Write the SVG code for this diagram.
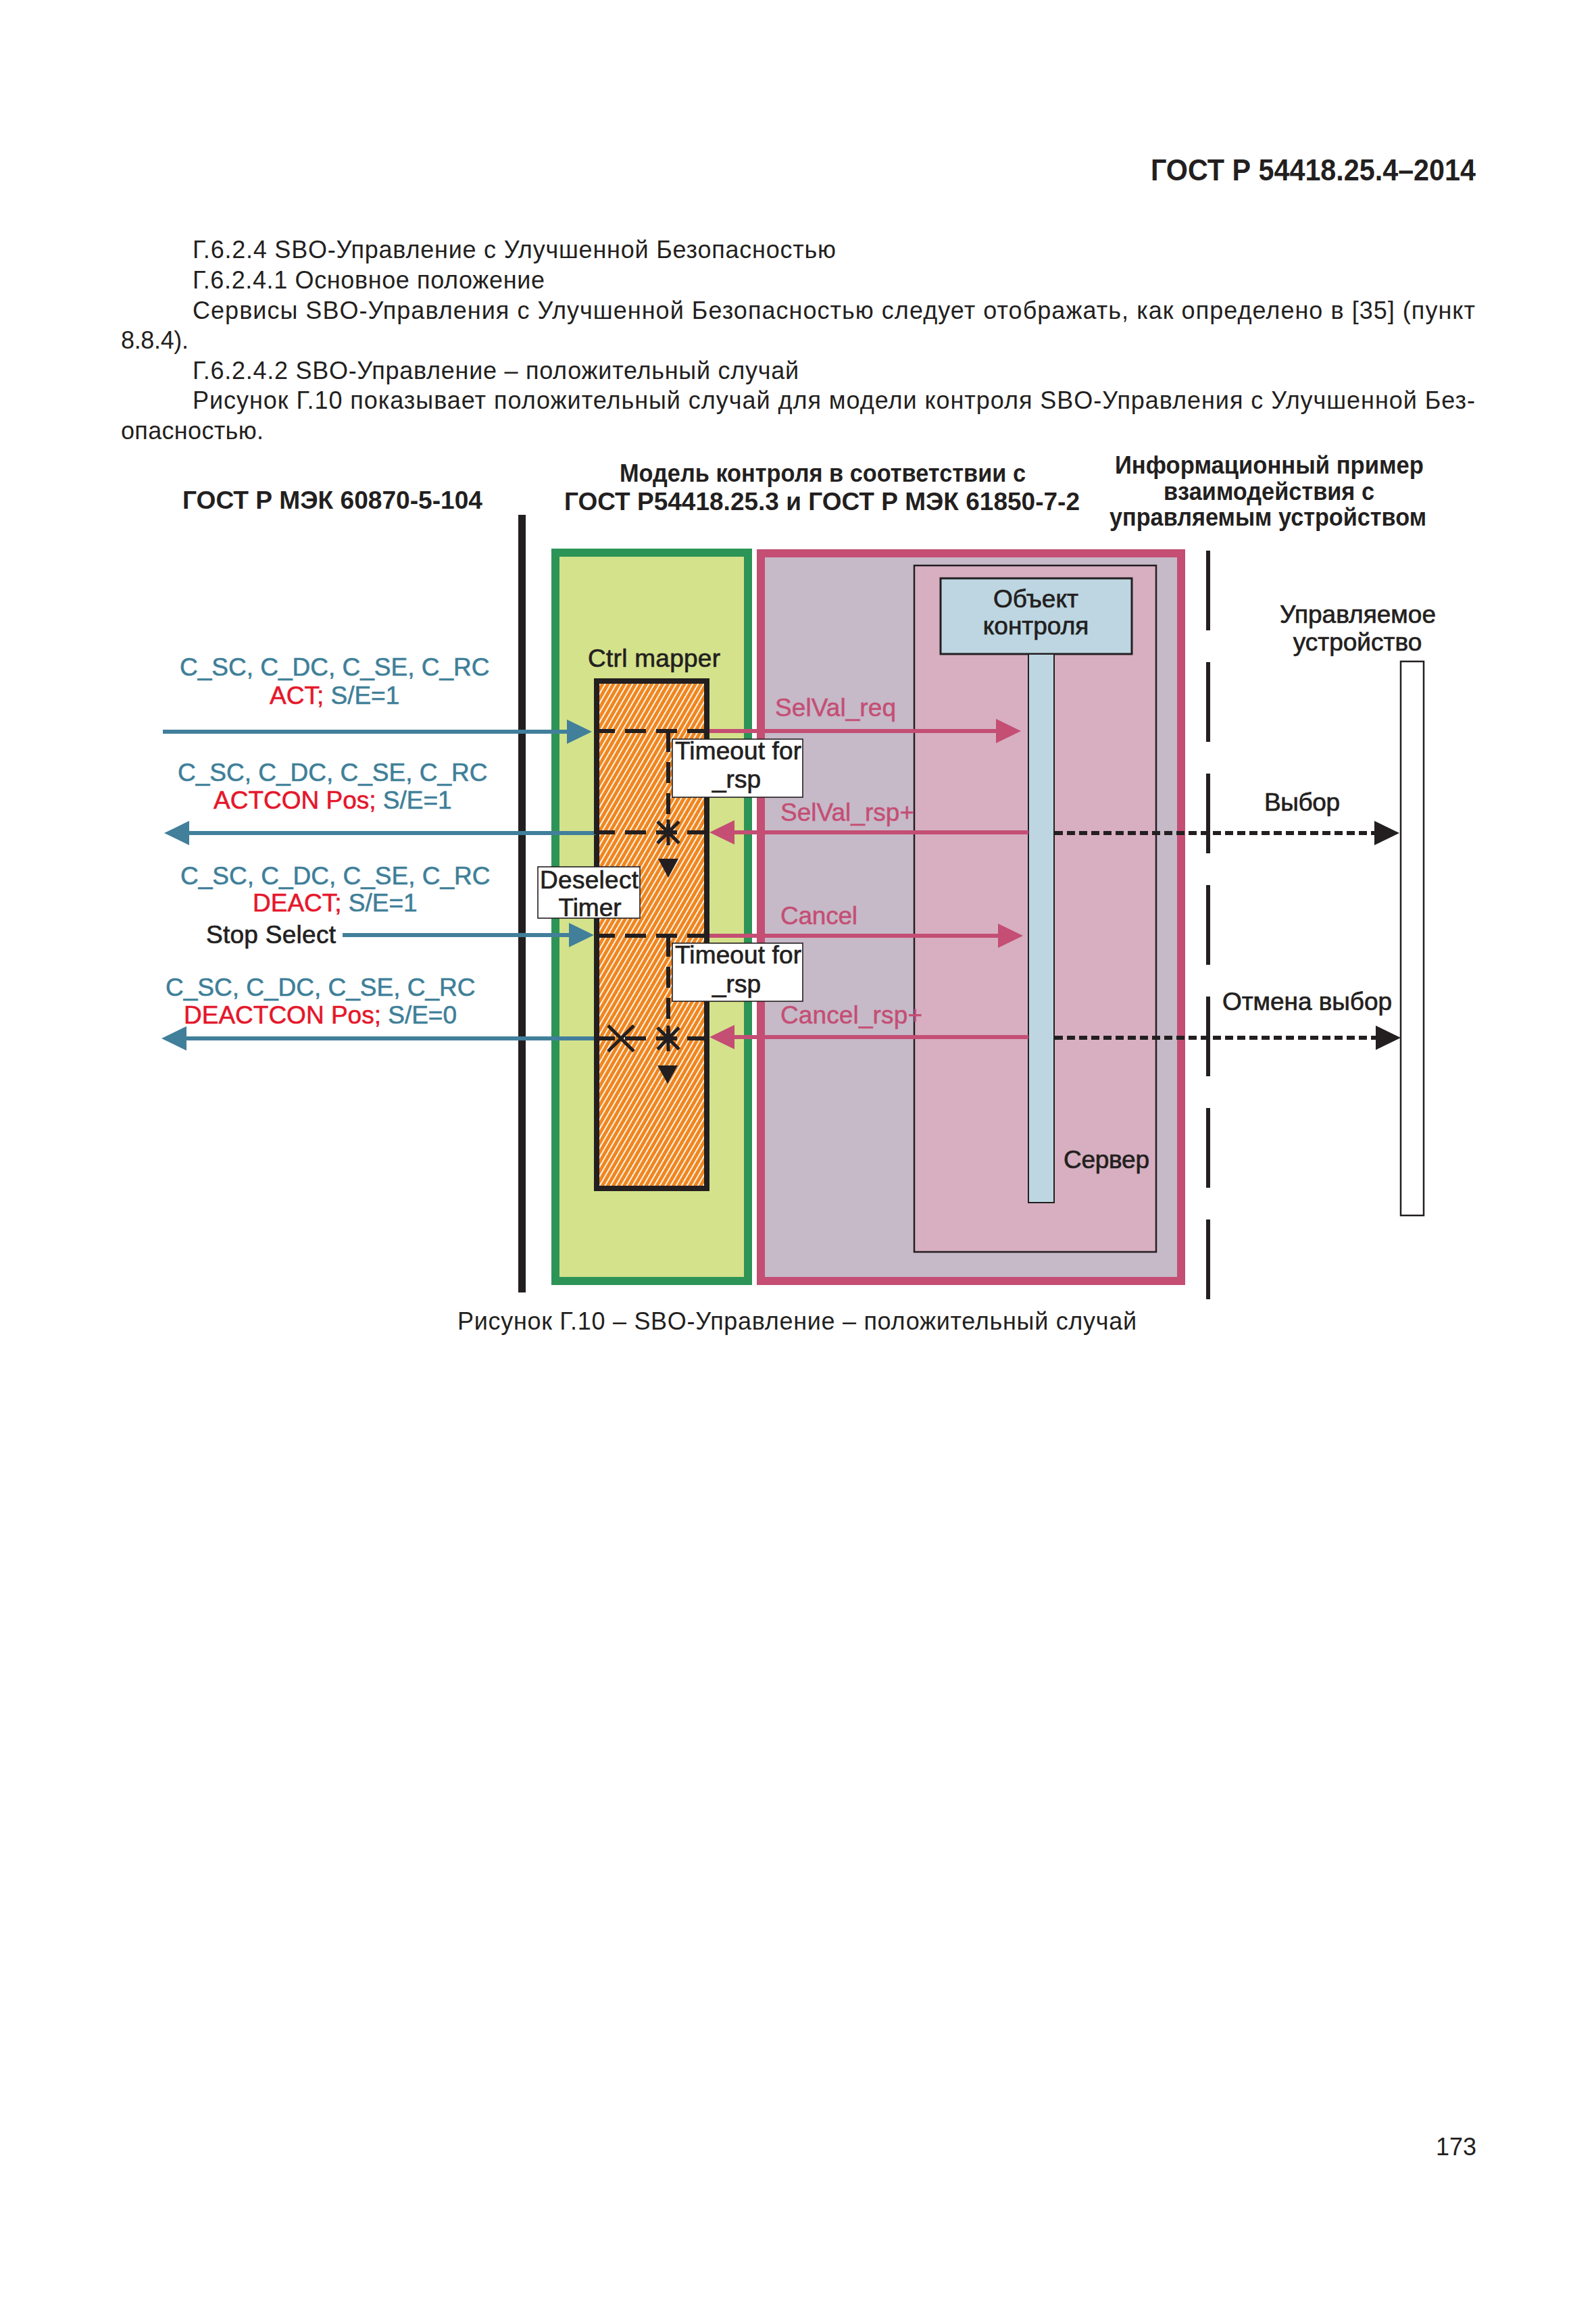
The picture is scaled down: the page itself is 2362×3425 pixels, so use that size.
<svg xmlns="http://www.w3.org/2000/svg" width="2362" height="3425" viewBox="0 0 2362 3425">
<style>
text{font-family:"Liberation Sans",Arial,sans-serif;}
.body{font-size:36px;fill:#231f20;}
.hb{font-size:37px;font-weight:bold;fill:#231f20;}
.lbl{font-size:37px;fill:#231f20;stroke:#231f20;stroke-width:0.7;}
.blu{font-size:37px;fill:#3f7f99;stroke:#3f7f99;stroke-width:0.6;}
.red{fill:#e5172b;stroke:#e5172b;}
.pk{font-size:37px;fill:#c44e74;stroke:#c44e74;stroke-width:0.5;}
.bline{stroke:#417f9b;stroke-width:6;fill:none;}
.pline{stroke:#c44e74;stroke-width:6;fill:none;}
.kdash{stroke:#231f20;stroke-width:6;stroke-dasharray:12 6;fill:none;}
.tdash{stroke:#231f20;stroke-width:6;stroke-dasharray:31 15;fill:none;}
.mark{stroke:#231f20;stroke-width:5;fill:none;}
.tbox{fill:#ffffff;stroke:#231f20;stroke-width:1.6;}
</style>
<defs>
<pattern id="hatch" patternUnits="userSpaceOnUse" width="7" height="7" patternTransform="rotate(30)">
<rect width="7" height="7" fill="#f0861f"/>
<rect x="0" y="0" width="1.8" height="7" fill="#ffffff"/>
</pattern>
<marker id="ab" markerUnits="userSpaceOnUse" markerWidth="40" markerHeight="40" viewBox="0 0 40 40" refX="2" refY="20" orient="auto"><path d="M0,2 L37,20 L0,38Z" fill="#417f9b"/></marker>
<marker id="ap" markerUnits="userSpaceOnUse" markerWidth="40" markerHeight="40" viewBox="0 0 40 40" refX="2" refY="20" orient="auto"><path d="M0,2 L37,20 L0,38Z" fill="#c44e74"/></marker>
<marker id="ak" markerUnits="userSpaceOnUse" markerWidth="40" markerHeight="40" viewBox="0 0 40 40" refX="2" refY="20" orient="auto"><path d="M0,2 L37,20 L0,38Z" fill="#231f20"/></marker>
</defs>
<rect width="2362" height="3425" fill="#ffffff"/>

<g id="page-text">
<text class="hb" x="1703" y="267" textLength="481" lengthAdjust="spacingAndGlyphs" style="font-size:45px">ГОСТ Р 54418.25.4–2014</text>
<text class="body" x="285" y="382" textLength="952" lengthAdjust="spacing">Г.6.2.4 SBO-Управление с Улучшенной Безопасностью</text>
<text class="body" x="285" y="427" textLength="521" lengthAdjust="spacing">Г.6.2.4.1 Основное положение</text>
<text class="body" x="285" y="472" textLength="1898" lengthAdjust="spacing">Сервисы SBO-Управления с Улучшенной Безопасностью следует отображать, как определено в [35] (пункт</text>
<text class="body" x="179" y="516" textLength="100" lengthAdjust="spacing">8.8.4).</text>
<text class="body" x="285" y="561" textLength="897" lengthAdjust="spacing">Г.6.2.4.2 SBO-Управление – положительный случай</text>
<text class="body" x="285" y="605" textLength="1898" lengthAdjust="spacing">Рисунок Г.10 показывает положительный случай для модели контроля SBO-Управления с Улучшенной Без-</text>
<text class="body" x="179" y="650" textLength="211" lengthAdjust="spacing">опасностью.</text>
<text class="body" x="677" y="1968" textLength="1005" lengthAdjust="spacing">Рисунок Г.10 – SBO-Управление – положительный случай</text>
<text class="body" x="2185" y="3190" text-anchor="end">173</text>
</g>

<g id="headings">
<text class="hb" x="270" y="753" textLength="444" lengthAdjust="spacingAndGlyphs">ГОСТ Р МЭК 60870-5-104</text>
<text class="hb" x="917" y="713" textLength="601" lengthAdjust="spacingAndGlyphs">Модель контроля в соответствии с</text>
<text class="hb" x="835" y="755" textLength="763" lengthAdjust="spacingAndGlyphs">ГОСТ Р54418.25.3 и ГОСТ Р МЭК 61850-7-2</text>
<text class="hb" x="1650" y="701" textLength="457" lengthAdjust="spacingAndGlyphs">Информационный пример</text>
<text class="hb" x="1722" y="740" textLength="312" lengthAdjust="spacingAndGlyphs">взаимодействия с</text>
<text class="hb" x="1642" y="778" textLength="469" lengthAdjust="spacingAndGlyphs">управляемым устройством</text>
</g>

<g id="boundary-left">
<rect x="767" y="762" width="11" height="1151" fill="#231f20"/>
</g>

<g id="boundary-right">
<line x1="1788" y1="815" x2="1788" y2="1923" stroke="#231f20" stroke-width="6" stroke-dasharray="118 47"/>
</g>

<g id="ctrl-mapper-area">
<rect x="822" y="818" width="285" height="1078" fill="#d4e28b" stroke="#2d9457" stroke-width="12"/>
<text class="lbl" x="870" y="987" textLength="196" lengthAdjust="spacing">Ctrl mapper</text>
</g>

<g id="server-area">
<rect x="1126" y="819" width="622" height="1077" fill="#c6b9c8" stroke="#c44e74" stroke-width="12"/>
</g>

<g id="server">
<rect x="1353" y="837" width="358" height="1016" fill="#d7afc1" stroke="#231f20" stroke-width="2.5"/>
<text class="lbl" x="1574" y="1729" textLength="127" lengthAdjust="spacing">Сервер</text>
</g>

<g id="control-object">
<rect x="1392" y="856" width="283" height="112" fill="#bdd6e2" stroke="#231f20" stroke-width="3"/>
<text class="lbl" x="1533" y="899" text-anchor="middle">Объект</text>
<text class="lbl" x="1533" y="939" text-anchor="middle">контроля</text>
<rect x="1522" y="968" width="38" height="812" fill="#bdd6e2" stroke="#231f20" stroke-width="2"/>
</g>

<g id="controlled-device">
<text class="lbl" x="1894" y="922" textLength="231" lengthAdjust="spacing">Управляемое</text>
<text class="lbl" x="2009" y="963" text-anchor="middle">устройство</text>
<rect x="2073" y="979" width="34" height="820" fill="#ffffff" stroke="#231f20" stroke-width="2.5"/>
</g>

<g id="ctrl-mapper">
<rect x="883" y="1008" width="163" height="751" fill="url(#hatch)" stroke="#231f20" stroke-width="8"/>
</g>

<g id="labels-left">
<text class="blu" x="266" y="1000">C_SC, C_DC, C_SE, C_RC</text>
<text class="blu" x="399" y="1042"><tspan class="red">ACT;</tspan> S/E=1</text>
<text class="blu" x="263" y="1156">C_SC, C_DC, C_SE, C_RC</text>
<text class="blu" x="316" y="1197"><tspan class="red">ACTCON Pos;</tspan> S/E=1</text>
<text class="blu" x="267" y="1309">C_SC, C_DC, C_SE, C_RC</text>
<text class="blu" x="374" y="1349"><tspan class="red">DEACT;</tspan> S/E=1</text>
<text class="lbl" x="305" y="1396" textLength="192" lengthAdjust="spacing">Stop Select</text>
<text class="blu" x="245" y="1474">C_SC, C_DC, C_SE, C_RC</text>
<text class="blu" x="272" y="1515"><tspan class="red">DEACTCON Pos;</tspan> S/E=0</text>
</g>

<g id="connectors">
<line class="bline" x1="241" y1="1083" x2="841" y2="1083" marker-end="url(#ab)"/>
<line class="bline" x1="882" y1="1233" x2="278" y2="1233" marker-end="url(#ab)"/>
<line class="bline" x1="507" y1="1384" x2="844" y2="1384" marker-end="url(#ab)"/>
<line class="bline" x1="882" y1="1537" x2="274" y2="1537" marker-end="url(#ab)"/>

<line class="pline" x1="1050" y1="1082" x2="1476" y2="1082" marker-end="url(#ap)"/>
<line class="pline" x1="1522" y1="1232" x2="1085" y2="1232" marker-end="url(#ap)"/>
<line class="pline" x1="1050" y1="1385" x2="1479" y2="1385" marker-end="url(#ap)"/>
<line class="pline" x1="1522" y1="1535" x2="1085" y2="1535" marker-end="url(#ap)"/>

<line class="kdash" x1="1561" y1="1233" x2="2036" y2="1233" marker-end="url(#ak)"/>
<line class="kdash" x1="1561" y1="1536" x2="2038" y2="1536" marker-end="url(#ak)"/>

<line class="tdash" x1="879" y1="1082" x2="1050" y2="1082"/>
<line class="tdash" x1="879" y1="1232" x2="1050" y2="1232"/>
<line class="tdash" x1="879" y1="1385" x2="1050" y2="1385"/>
<line class="tdash" x1="879" y1="1537" x2="1050" y2="1537"/>

<line class="tdash" x1="989" y1="1082" x2="989" y2="1232"/>
<line class="tdash" x1="989" y1="1385" x2="989" y2="1537"/>

<path class="mark" d="M989,1213 V1251 M973,1216 L1005,1248 M973,1248 L1005,1216"/>
<path class="mark" d="M989,1518 V1556 M973,1521 L1005,1553 M973,1553 L1005,1521"/>
<path class="mark" d="M900,1518 L938,1556 M900,1556 L938,1518"/>
<path d="M974,1271 L1004,1271 L989,1299Z" fill="#231f20"/>
<path d="M973,1577 L1003,1577 L988,1604Z" fill="#231f20"/>
</g>

<g id="timeout-1">
<rect class="tbox" x="995" y="1094" width="193" height="86"/>
<text class="lbl" x="999" y="1124" textLength="187" lengthAdjust="spacing">Timeout for</text>
<text class="lbl" x="1090" y="1166" text-anchor="middle">_rsp</text>
</g>

<g id="timeout-2">
<rect class="tbox" x="995" y="1396" width="193" height="86"/>
<text class="lbl" x="999" y="1426" textLength="187" lengthAdjust="spacing">Timeout for</text>
<text class="lbl" x="1090" y="1469" text-anchor="middle">_rsp</text>
</g>

<g id="deselect-timer">
<rect class="tbox" x="796" y="1283" width="151" height="76"/>
<text class="lbl" x="799" y="1315" textLength="146" lengthAdjust="spacing">Deselect</text>
<text class="lbl" x="873" y="1356" text-anchor="middle">Timer</text>
</g>

<g id="message-labels">
<text class="pk" x="1147" y="1060" textLength="179" lengthAdjust="spacing">SelVal_req</text>
<text class="pk" x="1155" y="1215" textLength="198" lengthAdjust="spacing">SelVal_rsp+</text>
<text class="pk" x="1155" y="1368" textLength="114" lengthAdjust="spacing">Cancel</text>
<text class="pk" x="1155" y="1515" textLength="210" lengthAdjust="spacing">Cancel_rsp+</text>
<text class="lbl" x="1871" y="1200" textLength="112" lengthAdjust="spacing">Выбор</text>
<text class="lbl" x="1809" y="1495" textLength="251" lengthAdjust="spacing">Отмена выбор</text>
</g>
</svg>
